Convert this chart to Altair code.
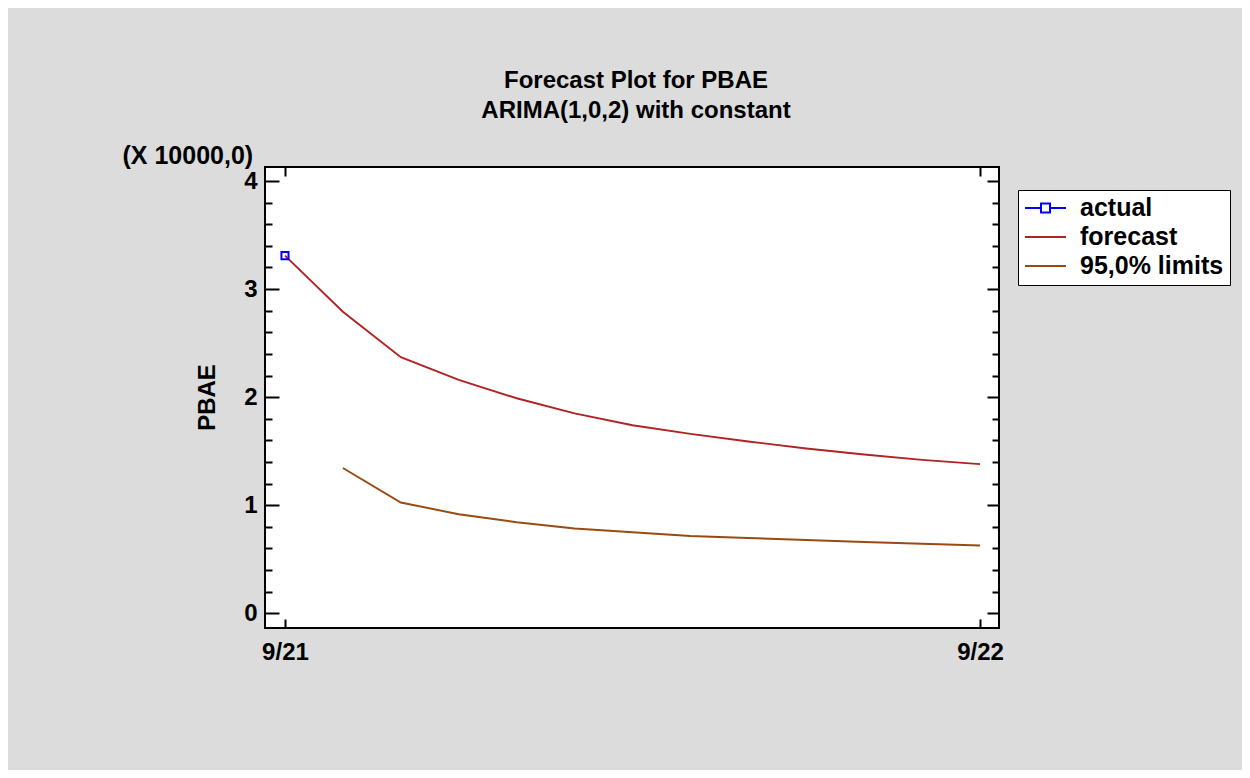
import json
import altair as alt
import pandas as pd

# ---- data ----
months = ["9/21", "10/21", "11/21", "12/21", "1/22", "2/22", "3/22",
          "4/22", "5/22", "6/22", "7/22", "8/22", "9/22"]
actual = [3.31]
forecast = [3.31, 2.79, 2.37, 2.16, 1.99, 1.85, 1.74, 1.66, 1.59, 1.525, 1.47, 1.42, 1.38]
lower_limit = [None, 1.345, 1.025, 0.917, 0.843, 0.785, 0.75, 0.716, 0.697, 0.679, 0.66, 0.643, 0.627]
series_names = ["actual", "forecast", "95,0% limits"]
series_colors = ["#0000ff", "#b22222", "#9a4a10"]
y_major = [0, 1, 2, 3, 4]
y_minor = [0.2, 0.4, 0.6, 0.8, 1.2, 1.4, 1.6, 1.8, 2.2, 2.4, 2.6, 2.8,
           3.2, 3.4, 3.6, 3.8]
x_ticks = [0, 12]

idx = list(range(len(months)))
df_fc = pd.DataFrame({"t": idx, "v": forecast})
df_lo = pd.DataFrame({"t": idx, "v": lower_limit}).dropna()
df_act = pd.DataFrame({"t": idx[:len(actual)], "v": actual})
df_leg = pd.DataFrame({"t": [0, 0, 0], "v": [0, 0, 0], "series": series_names})

W, H = 734, 461
FONT = "Liberation Sans"
xscale = alt.Scale(domain=[-0.345, 12.328], nice=False, zero=False)
yscale = alt.Scale(domain=[-0.136, 4.13], nice=False, zero=False)
label_expr = json.dumps(months) + "[datum.value]"

def tick_axis(orient, values, size, offset, **kw):
    return alt.Axis(orient=orient, values=values, tickSize=size, tickWidth=2,
                    tickColor="black", labels=False, domain=False, grid=False,
                    offset=offset, **kw)

# x axes
x_labels = alt.Axis(orient="bottom", values=x_ticks, labelExpr=label_expr,
                    ticks=False, domain=False, grid=False, labelFont=FONT,
                    labelFontSize=24, labelFontWeight="bold", labelColor="black",
                    labelPadding=12, title=None)
x_bottom_ticks = tick_axis("top", x_ticks, 9, -H, title=None)
x_top_ticks = tick_axis("bottom", x_ticks, 9, -H, title=None)

# y axes
y_labels = alt.Axis(orient="left", values=y_major, ticks=False, domain=False,
                    grid=False, labelFont=FONT, labelFontSize=24,
                    labelFontWeight="bold", labelColor="black", labelPadding=8,
                    title="PBAE", titleFont=FONT, titleFontSize=24,
                    titleFontWeight="bold", titleColor="black", titleAngle=270,
                    titleX=-58, titleY=230, titleAlign="center",
                    titleBaseline="middle")
y_left_major = tick_axis("right", y_major, 14, -W, title="(X 10000,0)",
                         titleFont=FONT, titleFontSize=25, titleFontWeight="bold",
                         titleColor="black", titleAngle=0, titleX=-143,
                         titleY=-12, titleAlign="left", titleBaseline="middle")
y_left_minor = tick_axis("right", y_minor, 7, -W, title=None)
y_right_major = tick_axis("left", y_major, 12, -W, title=None)
y_right_minor = tick_axis("left", y_minor, 7, -W, title=None)

fc_line = alt.Chart(df_fc).mark_line(color=series_colors[1], strokeWidth=1.9).encode(
    x=alt.X("t:Q", scale=xscale, axis=x_labels),
    y=alt.Y("v:Q", scale=yscale, axis=y_labels),
)
lo_line = alt.Chart(df_lo).mark_line(color=series_colors[2], strokeWidth=1.9).encode(
    x=alt.X("t:Q", scale=xscale, axis=x_bottom_ticks),
    y=alt.Y("v:Q", scale=yscale, axis=y_left_major),
)
act_pt = alt.Chart(df_act).mark_point(shape="square", filled=False,
                                       color=series_colors[0], strokeWidth=2,
                                       size=50, opacity=1).encode(
    x=alt.X("t:Q", scale=xscale, axis=x_top_ticks),
    y=alt.Y("v:Q", scale=yscale, axis=y_left_minor),
)

actual_path = "M-1,0L-0.22,0M0.22,0L1,0M-0.22,-0.22L0.22,-0.22L0.22,0.22L-0.22,0.22Z"
line_path = "M-1,0L1,0"
legend = alt.Legend(orient="none", legendX=753, legendY=23, title=None,
                    fillColor="white", strokeColor="black", padding=6,
                    labelFont=FONT, labelFontSize=25, labelFontWeight="bold",
                    labelColor="black", labelOffset=13, labelLimit=400,
                    symbolSize=1681, symbolStrokeWidth=2, clipHeight=24,
                    rowPadding=4)
leg_layer = alt.Chart(df_leg).transform_filter("false").mark_point(
    filled=False, strokeWidth=2, opacity=1).encode(
    x=alt.X("t:Q", scale=xscale, axis=None),
    y=alt.Y("v:Q", scale=yscale, axis=y_right_major),
    color=alt.Color("series:N", scale=alt.Scale(domain=series_names, range=series_colors),
                    legend=legend),
    shape=alt.Shape("series:N", scale=alt.Scale(domain=series_names,
                                                range=[actual_path, line_path, line_path]),
                    legend=legend),
)
dummy = alt.Chart(df_fc).transform_filter("false").mark_line(opacity=0).encode(
    x=alt.X("t:Q", scale=xscale, axis=None),
    y=alt.Y("v:Q", scale=yscale, axis=y_right_minor),
)

chart = alt.layer(fc_line, lo_line, act_pt, leg_layer, dummy).resolve_scale(
    x="shared", y="shared"
).resolve_axis(
    x="independent", y="independent"
).properties(
    width=W, height=H,
    autosize=alt.AutoSizeParams(type="none"),
    padding={"left": 257, "top": 159, "right": 243, "bottom": 142},
    title=alt.TitleParams(text=["Forecast Plot for PBAE", "ARIMA(1,0,2) with constant"],
                          font=FONT, fontSize=24, fontWeight="bold", color="black",
                          lineHeight=30, anchor="middle", offset=20, dx=4),
).configure(
    background="#dcdcdc", font=FONT
).configure_view(
    fill="white", stroke="black", strokeWidth=2
)

chart.save("out.html", embed_options={"renderer": "svg", "actions": False})
